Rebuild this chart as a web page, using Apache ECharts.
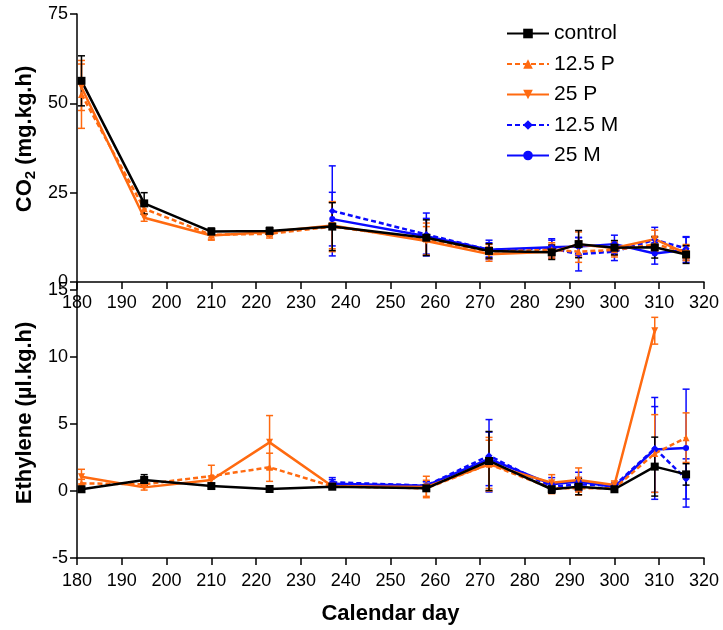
<!DOCTYPE html>
<html><head><meta charset="utf-8">
<script src="https://cdn.jsdelivr.net/npm/echarts@6/dist/echarts.min.js"></script>
<style>html,body{margin:0;padding:0;background:#fff}#c{width:723px;height:630px}</style>
</head><body><div id="c"></div>
<script>
// ---------- data ----------
const days = [181, 195, 210, 223, 237, 258, 272, 286, 292, 300, 309, 316];
const xTicks = [180, 190, 200, 210, 220, 230, 240, 250, 260, 270, 280, 290, 300, 310, 320];
const seriesNames = ['control', '12.5 P', '25 P', '12.5 M', '25 M'];

// CO2 (mg.kg.h)
const co2Control    = [56.3, 22.0, 14.1, 14.3, 15.5, 12.4, 8.7, 8.3, 10.6, 9.6, 9.7, 7.7];
const co2ControlErr = [7.0, 3.0, 1.0, 1.0, 6.7, 5.0, 2.0, 2.0, 3.8, 2.0, 3.0, 2.5];
const co2P125       = [52.5, 20.5, 13.2, 13.5, 15.5, 12.0, 8.5, 9.0, 8.5, 9.0, 10.5, 8.5];
const co2P125Err    = [9.5, 1.5, 1.5, 1.2, 7.0, 4.5, 2.0, 2.0, 3.0, 2.0, 2.0, 2.0];
const co2P25        = [54.5, 18.0, 13.0, 14.0, 15.8, 11.5, 7.8, 8.5, 10.5, 9.5, 12.0, 8.0];
const co2P25Err     = [6.5, 1.0, 1.0, 1.0, 6.5, 4.0, 2.0, 2.0, 3.5, 2.0, 2.5, 2.0];
const co2M125       = [null, null, null, null, 19.9, 13.3, 9.0, 9.4, 7.8, 8.5, 11.8, 9.4];
const co2M125Err    = [null, null, null, null, 12.6, 6.0, 2.7, 2.7, 4.7, 2.5, 3.5, 3.3];
const co2M25        = [null, null, null, null, 17.6, 12.8, 9.0, 9.7, 9.9, 10.6, 8.0, 9.0];
const co2M25Err     = [null, null, null, null, 7.5, 5.0, 2.0, 2.0, 2.5, 2.5, 3.0, 3.5];

// Ethylene (µl.kg.h)
const ethControl    = [0.13, 0.82, 0.37, 0.15, 0.32, 0.2, 2.24, 0.13, 0.32, 0.13, 1.82, 1.24];
const ethControlErr = [0.1, 0.4, 0.1, 0.1, 0.1, 0.1, 2.2, 0.3, 0.6, 0.1, 2.2, 0.8];
const ethP125       = [0.57, 0.5, 1.12, 1.77, 0.35, 0.2, 2.0, 0.2, 0.2, 0.2, 2.8, 3.98];
const ethP125Err    = [0.3, 0.2, 0.8, 1.05, 0.1, 0.6, 2.0, 0.4, 0.5, 0.2, 2.9, 1.85];
const ethP25        = [1.07, 0.27, 0.82, 3.63, 0.35, 0.3, 1.99, 0.62, 0.82, 0.45, 11.96, null];
const ethP25Err     = [0.55, 0.2, 0.3, 2.0, 0.1, 0.8, 1.8, 0.6, 0.9, 0.3, 1.0, null];
const ethM125       = [null, null, null, null, 0.65, 0.4, 2.63, 0.3, 0.5, 0.4, 3.18, 0.9];
const ethM125Err    = [null, null, null, null, 0.35, 0.3, 2.7, 0.3, 0.5, 0.2, 3.8, 1.5];
const ethM25        = [null, null, null, null, 0.55, 0.4, 2.4, 0.5, 0.7, 0.3, 3.1, 3.2];
const ethM25Err     = [null, null, null, null, 0.3, 0.3, 2.0, 0.5, 0.7, 0.2, 3.2, 4.4];

// ---------- styles ----------
const ORANGE = '#FF6A10', BLUE = '#0A0AFF', BLACK = '#000000';
const styles = {
  'control': {color: BLACK, type: 'solid', symbol: 'rect', size: 8},
  '12.5 P':  {color: ORANGE, type: [5, 3], symbol: 'triangle', size: 7},
  '25 P':    {color: ORANGE, type: 'solid', symbol: 'path://M0,0 L10,0 L5,10 Z', size: 7},
  '12.5 M':  {color: BLUE, type: [5, 3], symbol: 'diamond', size: 7},
  '25 M':    {color: BLUE, type: 'solid', symbol: 'circle', size: 6}
};
const FONT = 'Liberation Sans, Arial, Helvetica, sans-serif';

function pairs(vals) {
  return days.map((d, i) => vals[i] == null ? null : [d, vals[i]]).filter(p => p);
}
function errData(vals, errs) {
  return days.map((d, i) => vals[i] == null ? null : [d, vals[i], errs[i]]).filter(p => p);
}
function lineSeries(name, vals, idx) {
  const s = styles[name];
  return {
    type: 'line', name: name, xAxisIndex: idx, yAxisIndex: idx,
    data: pairs(vals), symbol: s.symbol, symbolSize: s.size, showSymbol: true,
    lineStyle: {color: s.color, width: 2.5, type: s.type},
    itemStyle: {color: s.color},
    animation: false, z: 3
  };
}
function errSeries(name, vals, errs, idx) {
  const c = styles[name].color;
  return {
    type: 'custom', xAxisIndex: idx, yAxisIndex: idx, silent: true, animation: false, z: 2,
    data: errData(vals, errs),
    encode: {x: 0, y: 1},
    renderItem: function (params, api) {
      const x = api.value(0), y = api.value(1), e = api.value(2);
      const top = api.coord([x, y + e]);
      const bot = api.coord([x, y - e]);
      const hw = 3.5;
      const st = {stroke: c, lineWidth: 1.5, fill: null};
      return {
        type: 'group',
        children: [
          {type: 'line', shape: {x1: top[0], y1: top[1], x2: bot[0], y2: bot[1]}, style: st},
          {type: 'line', shape: {x1: top[0] - hw, y1: top[1], x2: top[0] + hw, y2: top[1]}, style: st},
          {type: 'line', shape: {x1: bot[0] - hw, y1: bot[1], x2: bot[0] + hw, y2: bot[1]}, style: st}
        ]
      };
    }
  };
}

const panels = [
  {idx: 0, sets: [['control', co2Control, co2ControlErr], ['12.5 P', co2P125, co2P125Err], ['25 P', co2P25, co2P25Err], ['12.5 M', co2M125, co2M125Err], ['25 M', co2M25, co2M25Err]]},
  {idx: 1, sets: [['control', ethControl, ethControlErr], ['12.5 P', ethP125, ethP125Err], ['25 P', ethP25, ethP25Err], ['12.5 M', ethM125, ethM125Err], ['25 M', ethM25, ethM25Err]]}
];
const drawOrder = ['12.5 M', '25 M', '12.5 P', '25 P', 'control'];
const series = [];
panels.forEach(p => {
  drawOrder.forEach(n => { const s = p.sets.find(q => q[0] === n); series.push(errSeries(n, s[1], s[2], p.idx)); });
});
panels.forEach(p => {
  drawOrder.forEach(n => { const s = p.sets.find(q => q[0] === n); series.push(lineSeries(n, s[1], p.idx)); });
});

const axisLine = {show: true, onZero: false, lineStyle: {color: '#000', width: 1.5}};
const axisTick = {show: true, inside: false, length: 7, lineStyle: {color: '#000', width: 1.5}};
function xAxis(idx, margin, withName) {
  return {
    type: 'value', gridIndex: idx, min: xTicks[0], max: xTicks[xTicks.length - 1], interval: 10,
    position: 'bottom', axisLine: axisLine, axisTick: axisTick, splitLine: {show: false},
    axisLabel: {color: '#000', fontSize: 18, fontFamily: FONT, margin: margin, showMinLabel: true, showMaxLabel: true},
    name: withName ? 'Calendar day' : '', nameLocation: 'middle', nameGap: 45,
    nameTextStyle: {color: '#000', fontSize: 22, fontWeight: 'bold', fontFamily: FONT}
  };
}
function yAxis(idx, min, max, interval) {
  return {
    type: 'value', gridIndex: idx, min: min, max: max, interval: interval,
    axisLine: axisLine, axisTick: axisTick, splitLine: {show: false},
    axisLabel: {color: '#000', fontSize: 18, fontFamily: FONT, margin: 9, showMinLabel: true, showMaxLabel: true}
  };
}

const option = {
  backgroundColor: '#fff',
  animation: false,
  grid: [
    {left: 77, right: 19, top: 14, height: 268},
    {left: 77, right: 19, top: 290, height: 268}
  ],
  xAxis: [xAxis(0, 12, false), xAxis(1, 14, true)],
  yAxis: [yAxis(0, 0, 75, 25), yAxis(1, -5, 15, 5)],
  legend: {
    data: seriesNames, orient: 'vertical', left: 506, top: 23, padding: 0,
    itemWidth: 42, itemHeight: 12, itemGap: 9.5,
    textStyle: {color: '#000', fontSize: 21, fontFamily: FONT},
    selectedMode: false
  },
  graphic: [
    {type: 'line', shape: {x1: 77, y1: 282, x2: 77, y2: 290}, style: {stroke: '#000', lineWidth: 1.5}, silent: true},
    {type: 'text', x: 25, y: 139, rotation: Math.PI / 2, silent: true,
      style: {text: '{a|CO}{b|2}{a| (mg.kg.h)}', align: 'center', verticalAlign: 'middle', fill: '#000',
        rich: {a: {fontSize: 22, fontWeight: 'bold', fontFamily: FONT, fill: '#000'},
               b: {fontSize: 15, fontWeight: 'bold', fontFamily: FONT, fill: '#000', padding: [11, 0, 0, 0]}}}},
    {type: 'text', x: 25, y: 413, rotation: Math.PI / 2, silent: true,
      style: {text: 'Ethylene (µl.kg.h)', align: 'center', verticalAlign: 'middle', fill: '#000',
        font: 'bold 22px ' + FONT}}
  ],
  series: series
};

const chart = echarts.init(document.getElementById('c'), null, {renderer: 'canvas'});
chart.setOption(option);
</script>
</body></html>
